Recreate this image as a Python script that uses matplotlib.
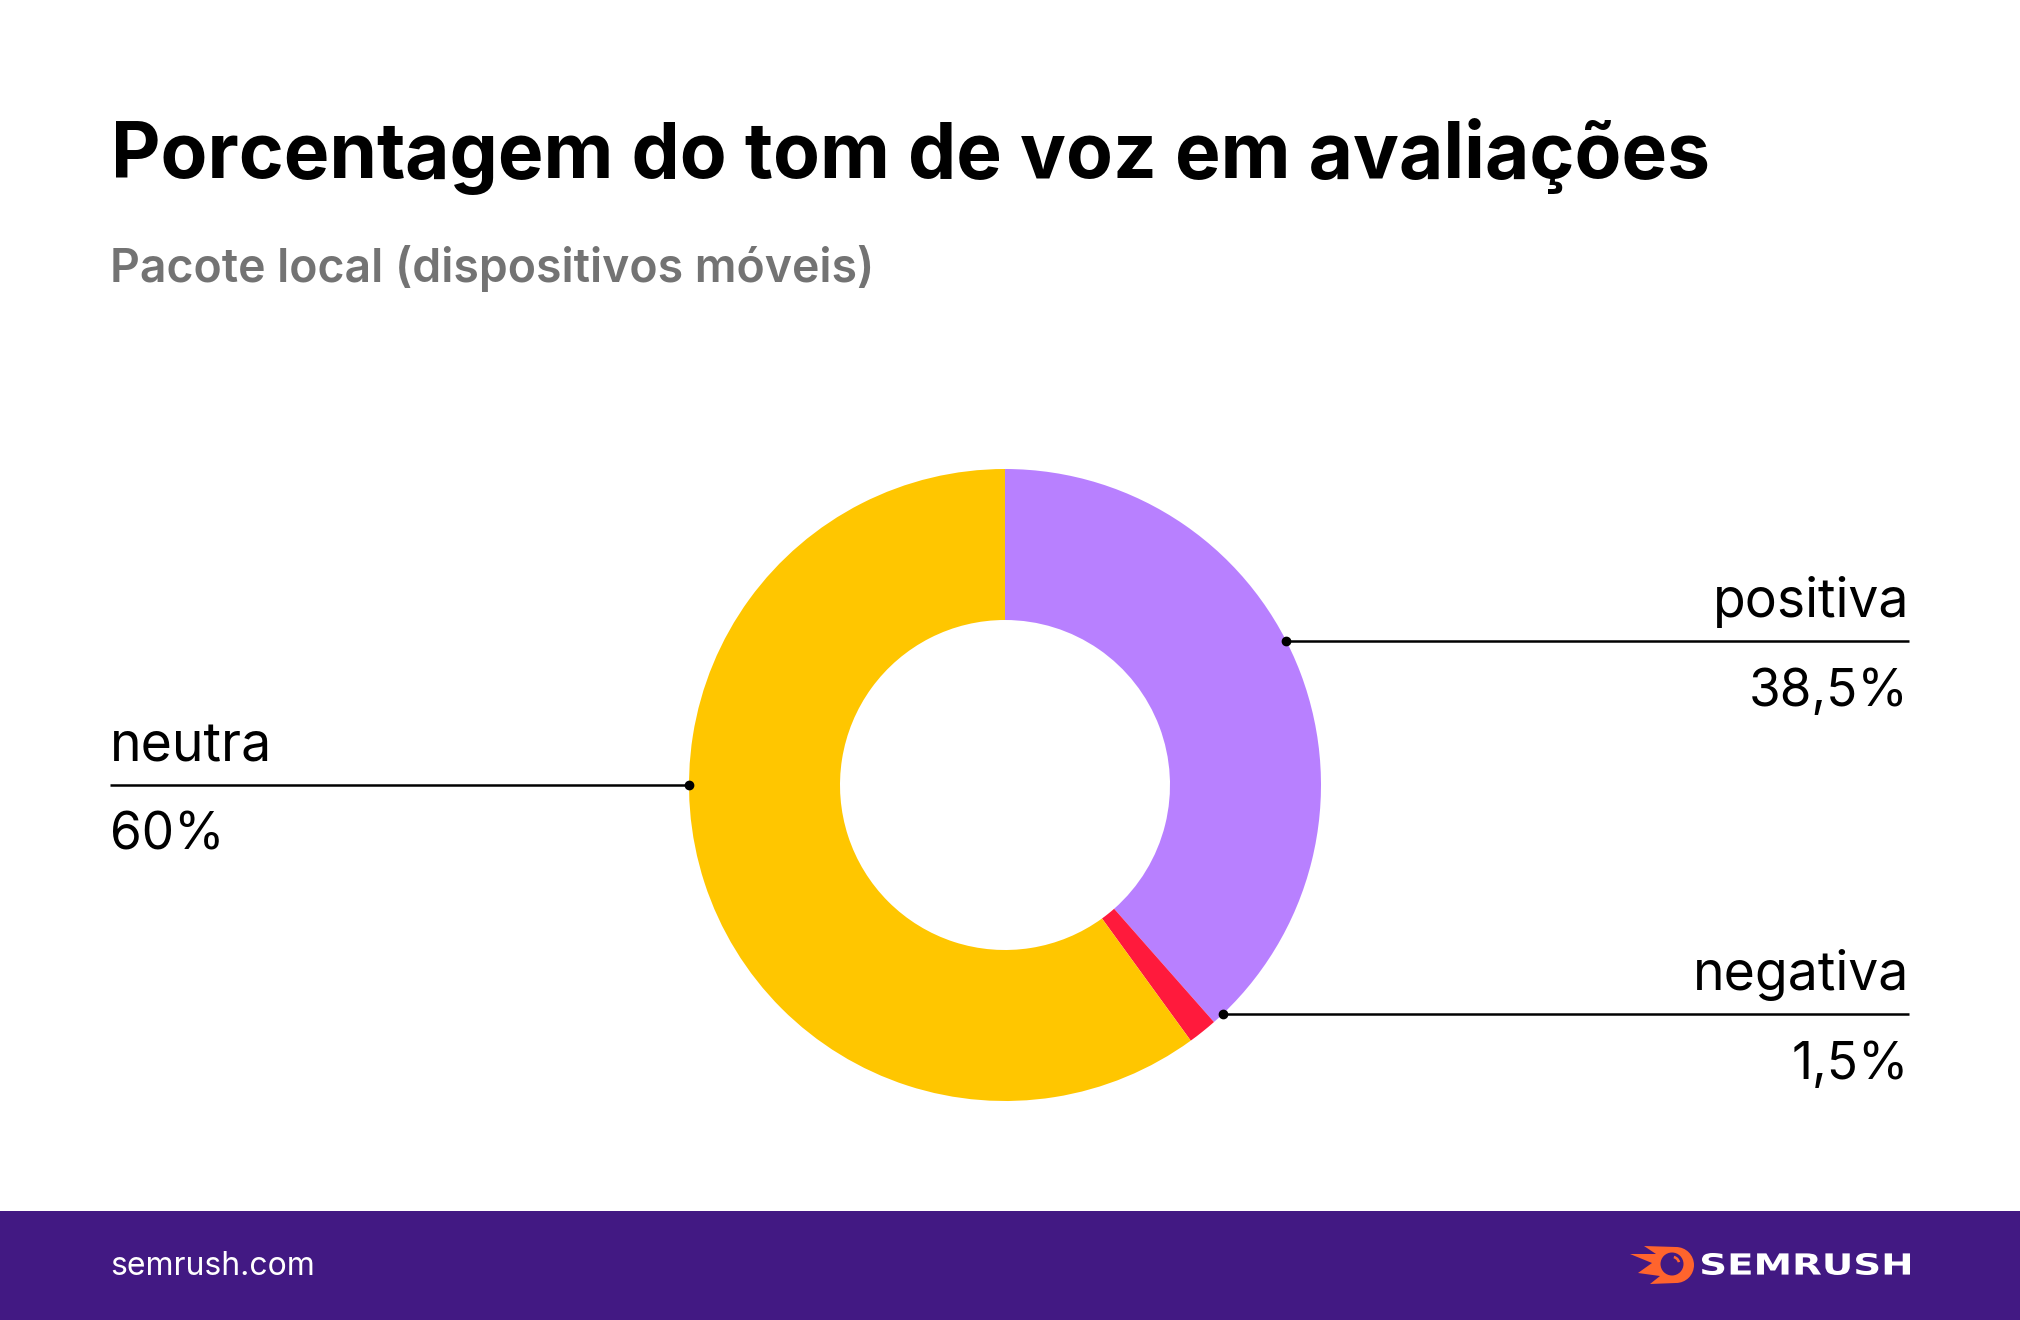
import numpy as np
import matplotlib.pyplot as plt
from matplotlib.patches import Rectangle, Circle, Polygon, PathPatch, Wedge
from matplotlib.textpath import TextPath
from matplotlib.font_manager import FontProperties
from matplotlib.transforms import Affine2D

W, H = 2020, 1320

# data
labels = ["positiva", "negativa", "neutra"]
values = [38.5, 1.5, 60.0]
value_labels = ["38,5%", "1,5%", "60%"]
colors = ["#B880FF", "#FF1A3C", "#FFC600"]

title = "Porcentagem do tom de voz em avaliações"
subtitle = "Pacote local (dispositivos móveis)"
footer = "semrush.com"
brand = "SEMRUSH"

PURPLE = "#421983"
ORANGE = "#FF642D"
FONT = "Inter"


def Y(y):
    # pixel coords measured from top -> axes coords
    return H - y


fig = plt.figure(figsize=(W / 100, H / 100), dpi=100)
ax = fig.add_axes([0, 0, 1, 1])

# donut
cx, cy, R, r = 1005, 785, 316, 165
wedges, _ = ax.pie(
    values,
    colors=colors,
    startangle=90,
    counterclock=False,
    radius=R,
    center=(cx, Y(cy)),
    wedgeprops=dict(width=R - r, linewidth=0),
)
ax.set_xlim(0, W)
ax.set_ylim(0, H)
ax.set_aspect("auto")
ax.axis("off")

# label lines: y of line and side
label_pos = {"positiva": (641, "right"), "negativa": (1014, "right"), "neutra": (785, "left")}
for lab, val in zip(labels, value_labels):
    ly, side = label_pos[lab]
    dx = np.sqrt(R ** 2 - (cy - ly) ** 2)
    if side == "right":
        x0, x1, ha = cx + dx, 1909, "right"
    else:
        x0, x1, ha = cx - dx, 110, "left"
    ax.plot([x0, x1], [Y(ly), Y(ly)], color="black", lw=1.8, solid_capstyle="butt")
    ax.plot([x0], [Y(ly)], "o", color="black", ms=6)
    ax.text(x1, Y(ly - 24), lab, ha=ha, va="baseline", fontsize=38.5, family=FONT, color="black")
    ax.text(x1, Y(ly + 65), val, ha=ha, va="baseline", fontsize=37, family=FONT,
            color="black")

# title / subtitle
ax.text(111, Y(178), title, ha="left", va="baseline", fontsize=55.2, family=FONT,
        weight="bold", color="black")
ax.text(110, Y(282), subtitle, ha="left", va="baseline", fontsize=33.4, family=FONT,
        weight="semibold", color="#737373")

# footer band
ax.add_patch(Rectangle((0, 0), W, H - 1211, color=PURPLE, lw=0))
ax.text(110, Y(1275), footer, ha="left", va="baseline", fontsize=23, family=FONT, color="white")

# logo text stretched into its box
tp = TextPath((0, 0), brand, size=1, prop=FontProperties(family="DejaVu Sans", weight="bold"))
bb = tp.get_extents()
tr = Affine2D().translate(-bb.x0, -bb.y0).scale(208 / bb.width, 22 / bb.height).translate(1702, Y(1275))
ax.add_patch(PathPatch(tr.transform_path(tp), color="white", lw=0))

# logo icon
flame = [(1676, 1247), (1644, 1246), (1656, 1254), (1630, 1254), (1652, 1263),
         (1638, 1273), (1660, 1276), (1650, 1284), (1676, 1283)]
ax.add_patch(Polygon([(x, Y(y)) for x, y in flame], color=ORANGE, lw=0))
ax.add_patch(Circle((1676, Y(1265)), 18, color=ORANGE, lw=0))
ax.add_patch(Circle((1672, Y(1264)), 11.5, color=PURPLE, lw=0))
ax.add_patch(Wedge((1672, Y(1264)), 8.5, 15, 75, width=2.6, color=ORANGE, lw=0))

fig.savefig("out.png", dpi=100, facecolor="white")
